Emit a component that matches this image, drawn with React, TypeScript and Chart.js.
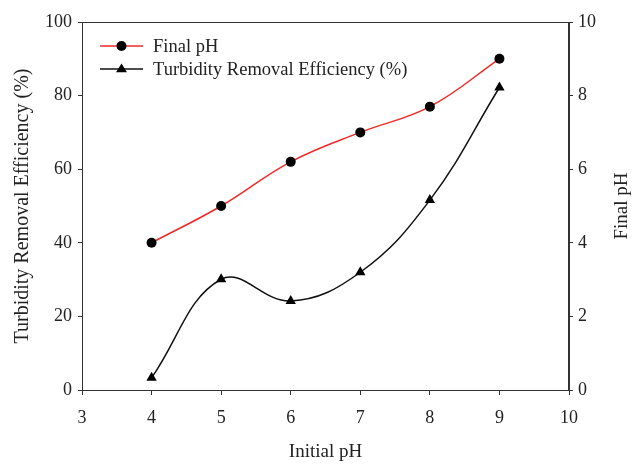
import React, { useEffect, useRef } from "react";
import { Chart, registerables } from "chart.js";

Chart.register(...registerables);

const initialPH = [4, 5, 6, 7, 8, 9];
const finalPH = [4.0, 5.0, 6.2, 7.0, 7.7, 9.0];
const turbidity = [3.3, 30.1, 24.2, 32.0, 51.6, 82.2];

const xTicks = [3, 4, 5, 6, 7, 8, 9, 10];
const seriesLabels = ["Final pH", "Turbidity Removal Efficiency (%)"];
const xTitle = "Initial pH";
const yLeftTitle = "Turbidity Removal Efficiency (%)";
const yRightTitle = "Final pH";

const FONT = "'Liberation Serif', 'Times New Roman', serif";
const TEXT = "#222";
const AXIS = "#333";

const framePlugin = {
  id: "frameAndLegend",
  afterDraw(chart: any) {
    const { ctx, chartArea } = chart;
    ctx.save();
    ctx.strokeStyle = AXIS;
    ctx.lineWidth = 1;
    ctx.strokeRect(chartArea.left + 0.5, chartArea.top + 0.5, chartArea.right - chartArea.left - 1, chartArea.bottom - chartArea.top);

    // right title, reading bottom to top
    ctx.fillStyle = TEXT;
    ctx.font = `19px ${FONT}`;
    ctx.textAlign = "center";
    ctx.textBaseline = "middle";
    ctx.translate(622, (chartArea.top + chartArea.bottom) / 2);
    ctx.rotate(-Math.PI / 2);
    ctx.fillText(yRightTitle, 0, 0);
    ctx.restore();

    // legend inside plot
    ctx.save();
    const rows = [46, 69];
    chart.data.datasets.forEach((ds: any, i: number) => {
      const y = rows[i];
      ctx.strokeStyle = ds.borderColor;
      ctx.lineWidth = 1.5;
      ctx.beginPath();
      ctx.moveTo(100, y);
      ctx.lineTo(143, y);
      ctx.stroke();
      ctx.fillStyle = "#000";
      if (ds.pointStyle === "triangle") {
        const r = 5.5;
        ctx.beginPath();
        ctx.moveTo(121.5, y - r);
        ctx.lineTo(121.5 + r, y + r * 0.6);
        ctx.lineTo(121.5 - r, y + r * 0.6);
        ctx.closePath();
        ctx.fill();
      } else {
        ctx.beginPath();
        ctx.arc(121.5, y, 5, 0, Math.PI * 2);
        ctx.fill();
      }
      ctx.fillStyle = TEXT;
      ctx.font = `18.5px ${FONT}`;
      ctx.textAlign = "left";
      ctx.textBaseline = "middle";
      ctx.fillText(ds.label, 153, y + 1);
    });
    ctx.restore();
  },
};

export default function App() {
  const ref = useRef<HTMLCanvasElement>(null);
  useEffect(() => {
    document.body.style.margin = "0";
    const chart = new Chart(ref.current!, {
      type: "line",
      data: {
        datasets: [
          {
            label: seriesLabels[0],
            data: initialPH.map((x, i) => ({ x, y: finalPH[i] })),
            yAxisID: "y2",
            borderColor: "rgb(240,40,40)",
            borderWidth: 1.5,
            pointStyle: "circle",
            pointRadius: 5,
            pointBackgroundColor: "#000",
            pointBorderColor: "#000",
            pointBorderWidth: 0,
            tension: 0.4,
          },
          {
            label: seriesLabels[1],
            data: initialPH.map((x, i) => ({ x, y: turbidity[i] })),
            yAxisID: "y",
            borderColor: "#111",
            borderWidth: 1.5,
            pointStyle: "triangle",
            pointRadius: 6,
            pointBackgroundColor: "#000",
            pointBorderColor: "#000",
            pointBorderWidth: 0,
            tension: 0.4,
          },
        ],
      },
      plugins: [framePlugin],
      options: {
        responsive: false,
        animation: false,
        layout: { padding: { top: 22, right: 0, left: 0, bottom: 0 } },
        plugins: { legend: { display: false }, tooltip: { enabled: false } },
        scales: {
          x: {
            type: "linear",
            min: 3,
            max: 10,
            afterBuildTicks: (s: any) => {
              s.ticks = xTicks.map((v) => ({ value: v }));
            },
            afterFit: (s: any) => {
              s.height = 75;
            },
            grid: { drawOnChartArea: false, tickLength: 5, color: AXIS },
            border: { color: AXIS, width: 1 },
            ticks: { font: { family: FONT, size: 18 }, color: TEXT, padding: 12, maxRotation: 0 },
            title: { display: true, text: xTitle, font: { family: FONT, size: 19 }, color: TEXT, padding: { top: 2, bottom: 2 } },
          },
          y: {
            position: "left",
            min: 0,
            max: 100,
            ticks: { stepSize: 20, font: { family: FONT, size: 18 }, color: TEXT, padding: 6 },
            afterFit: (s: any) => {
              s.width = 82;
            },
            grid: { drawOnChartArea: false, tickLength: 4, color: AXIS },
            border: { color: AXIS, width: 1 },
            title: { display: true, text: yLeftTitle, font: { family: FONT, size: 20 }, color: TEXT, padding: { top: 11, bottom: 0 } },
          },
          y2: {
            position: "right",
            min: 0,
            max: 10,
            ticks: { stepSize: 2, font: { family: FONT, size: 18 }, color: TEXT, padding: 5 },
            afterFit: (s: any) => {
              s.width = 68;
            },
            grid: { drawOnChartArea: false, tickLength: 4, color: AXIS },
            border: { color: AXIS, width: 1 },
          },
        },
      },
    });
    return () => chart.destroy();
  }, []);
  return (
    <div style={{ position: "absolute", left: 0, top: 0, width: 637, height: 465 }}>
      <canvas ref={ref} width={637} height={465} style={{ display: "block", width: 637, height: 465 }} />
    </div>
  );
}
